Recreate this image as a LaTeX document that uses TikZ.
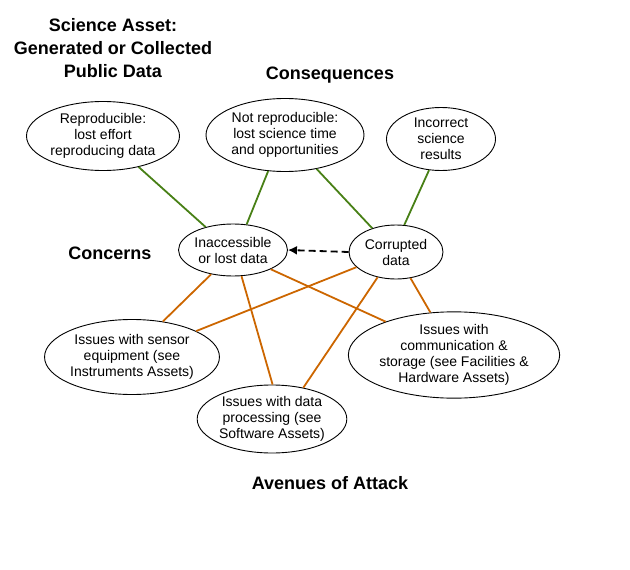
\documentclass[tikz,border=0pt]{standalone}
\usepackage{fontspec}
\setmainfont{Liberation Sans}
\usetikzlibrary{shapes.geometric,arrows.meta}
\definecolor{cgreen}{RGB}{72,128,22}
\definecolor{corange}{RGB}{204,102,0}
\tikzset{
  bub/.style={ellipse,draw=black,line width=0.9pt,inner sep=0pt,align=center,
    font=\fontsize{14}{16}\selectfont},
  ttl/.style={align=center,font=\fontsize{18}{23}\selectfont\bfseries},
  glink/.style={draw=cgreen,line width=1.8pt},
  olink/.style={draw=corange,line width=1.8pt},
}
\begin{document}
\begin{tikzpicture}[x=1pt,y=-1pt]
\useasboundingbox (0,0) rectangle (630,570);
\node[ttl] (t1) at (113,48) {Science Asset:\\Generated or Collected\\Public Data};
\node[ttl] (t2) at (330,75) {Consequences};
\node[ttl] (t3) at (110,253) {Concerns};
\node[ttl] (t4) at (330,483) {Avenues of Attack};

\node[bub,minimum width=153,minimum height=69] (rep) at (103,136) {Reproducible:\\lost effort\\reproducing data};
\node[bub,minimum width=158,minimum height=73] (nrep) at (285,135) {Not reproducible:\\lost science time\\and opportunities};
\node[bub,minimum width=109,minimum height=63] (inc) at (441,139) {Incorrect\\science\\results};
\node[bub,minimum width=107,minimum height=52] (ina) at (233,250) {Inaccessible\\or lost data};
\node[bub,minimum width=94,minimum height=54] (cor) at (396,252) {Corrupted\\data};
\node[bub,minimum width=174,minimum height=75] (sen) at (132,357) {Issues with sensor\\equipment (see\\Instruments Assets)};
\node[bub,minimum width=208,minimum height=84] (com) at (454,355) {Issues with\\communication \&\\storage (see Facilities \&\\Hardware Assets)};
\node[bub,minimum width=146,minimum height=68] (dat) at (272,419) {Issues with data\\processing (see\\Software Assets)};

\draw[glink] (rep.-41.5) -- (ina.140);
\draw[glink] (nrep.245) -- (ina.62);
\draw[glink] (nrep.313) -- (cor.135);
\draw[glink] (inc.249) -- (cor.73);

\draw[olink] (ina.228.5) -- (sen.49);
\draw[olink] (ina.288) -- (dat.89);
\draw[olink] (ina.333) -- (com.154);
\draw[olink] (cor.201.5) -- (sen.22.6);
\draw[olink] (cor.234.7) -- (dat.45);
\draw[olink] (cor.299) -- (com.119);

\draw[line width=1.8pt,dash pattern=on 7pt off 4pt,-{Latex[length=9pt,width=9pt]}] (cor.west) -- (ina.east);
\end{tikzpicture}
\end{document}
